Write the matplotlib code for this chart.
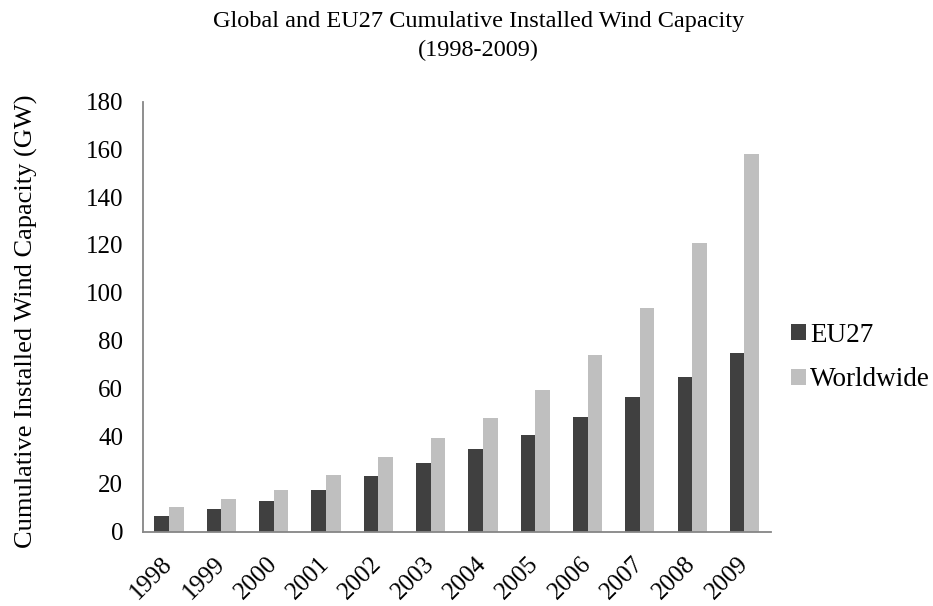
import numpy as np
import matplotlib
matplotlib.use('Agg')
import matplotlib.pyplot as plt

plt.rcParams['font.family'] = ['Liberation Serif', 'DejaVu Serif']

# cumulative installed capacity, GW
years = ['1998', '1999', '2000', '2001', '2002', '2003',
         '2004', '2005', '2006', '2007', '2008', '2009']
eu27 = [6.5, 9.7, 12.9, 17.3, 23.1, 28.6, 34.4, 40.5, 48.0, 56.5, 64.9, 74.8]
worldwide = [10.2, 13.6, 17.4, 23.9, 31.1, 39.4, 47.6, 59.1, 74.1, 93.8, 120.6, 158.0]

fig = plt.figure(figsize=(9.33, 6.06), dpi=100)
ax = fig.add_axes([0.153, 0.1226, 0.673, 0.7099])

x = np.arange(len(years))
w = 0.28
ax.bar(x - w / 2, eu27, w, color='#404040', label='EU27')
ax.bar(x + w / 2, worldwide, w, color='#BFBFBF', label='Worldwide')

ax.set_xlim(-0.5, len(years) - 0.5)
ax.set_ylim(0, 180)
ax.set_yticks(range(0, 181, 20))
ax.set_xticks(x)
ax.set_xticklabels(years, rotation=45, ha='right', va='center',
                   rotation_mode='anchor')
ax.tick_params(axis='both', length=0, labelsize=18)
ax.tick_params(axis='x', pad=21)
ax.tick_params(axis='y', pad=14)

for s in ['top', 'right']:
    ax.spines[s].set_visible(False)
for s in ['left', 'bottom']:
    ax.spines[s].set_color('#868686')
    ax.spines[s].set_linewidth(1.3)

# axis title placed by hand so it sits near the figure edge
fig.text(26.5 / 933, 0.4695, 'Cumulative Installed Wind Capacity (GW)',
         rotation=90, ha='center', va='center', fontsize=19)

fig.text(0.513, 0.9637, 'Global and EU27 Cumulative Installed Wind Capacity',
         ha='center', va='center', fontsize=17.5)
fig.text(0.513, 0.916, '(1998-2009)', ha='center', va='center', fontsize=17.5)

ax.legend(loc='center left', bbox_to_anchor=(1.0, 0.405), frameon=False,
          fontsize=19.5, handlelength=0.55, handleheight=0.55, handletextpad=0.15,
          labelspacing=0.73, borderaxespad=0.35)

fig.savefig('out.png', dpi=100)
